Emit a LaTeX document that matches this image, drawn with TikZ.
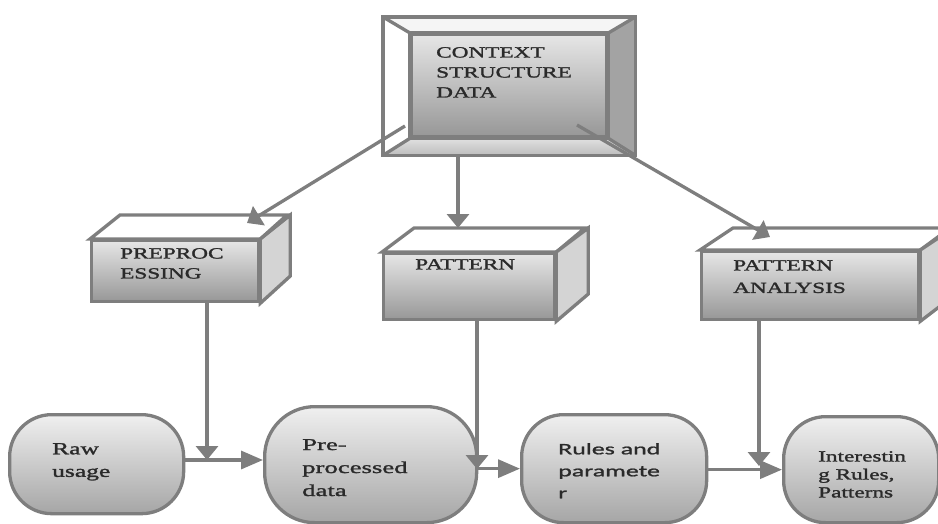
\documentclass[tikz,border=0pt]{standalone}
\usepackage{fontspec}
\setmainfont{Liberation Serif}
\newfontfamily\boxfont[FakeStretch=1.5,FakeBold=1.6]{Liberation Serif}
\newfontfamily\termfont[FakeStretch=1.5,FakeBold=1.6]{Liberation Serif}
\newfontfamily\widefont[FakeStretch=1.62,FakeBold=1.6]{Liberation Serif}
\newfontfamily\rulefont[FakeStretch=1.62,FakeBold=1.2]{Carlito}
\usetikzlibrary{arrows.meta,calc}

\definecolor{edge}{HTML}{7E7E7E}
\definecolor{ink}{HTML}{2A2A2A}
\definecolor{facetop}{HTML}{E6E6E6}
\definecolor{facebot}{HTML}{979797}
\definecolor{side}{HTML}{D4D4D4}

\tikzset{
  outline/.style={draw=edge, line width=3.3pt, line join=miter},
  front/.style={outline, rectangle, inner sep=0pt, anchor=north west,
                top color=facetop, bottom color=facebot},
  topface/.style={outline, fill=white},
  sideface/.style={outline, fill=side},
  terminal/.style={outline, rectangle, inner sep=0pt, anchor=north west,
                   rounded corners=42pt, top color=white!94!black, bottom color=black!35},
  boxtext/.style={anchor=north west, inner sep=0pt, align=left, text=ink,
                  font=\boxfont\fontsize{15.5}{20}\selectfont},
  termtext/.style={anchor=north west, inner sep=0pt, align=left, text=ink,
                   font=\termfont\fontsize{17}{22.5}\selectfont},
  arr/.style={draw=edge, line width=3.3pt, -{Triangle[length=14pt,width=22pt]}},
  harr/.style={draw=edge, line width=3.3pt, -{Triangle[length=22pt,width=18pt]}},
}

\begin{document}
\begin{tikzpicture}[x=1pt,y=-1pt]
\useasboundingbox (0,0) rectangle (938,523);

% ---- bevelled context box ----
\node[outline, rectangle, inner sep=0pt, anchor=north west,
      minimum width=249pt, minimum height=135pt] (frame) at (383,17) {};
\node[front, minimum width=195pt, minimum height=102pt] (ctx) at (410,33) {};
\fill[white!96!black] (frame.north west) -- (frame.north east) -- (ctx.north east) -- (ctx.north west) -- cycle;
\fill[white] (frame.north west) -- (ctx.north west) -- (ctx.south west) -- (frame.south west) -- cycle;
\fill[black!36] (frame.north east) -- (frame.south east) -- (ctx.south east) -- (ctx.north east) -- cycle;
\shade[top color=black!12, bottom color=black!26] (frame.south west) -- (ctx.south west) -- (ctx.south east) -- (frame.south east) -- cycle;
\draw[outline] (frame.north west) rectangle (frame.south east);
\draw[outline] (ctx.north west) rectangle (ctx.south east);
\draw[outline] (frame.north west) -- (ctx.north west)
               (frame.north east) -- (ctx.north east)
               (frame.south west) -- (ctx.south west)
               (frame.south east) -- (ctx.south east);
\node[boxtext] (ctxtext) at (436,47) {CONTEXT\\STRUCTURE\\DATA};

% ---- three cubes ----
\node[front, minimum width=167pt, minimum height=61pt] (pre) at (90,239) {};
\draw[topface] (pre.north west) -- ++(30,-24) -- ++(167,0) -- (pre.north east) -- cycle;
\draw[sideface] (pre.north east) -- ++(30,-24) -- ++(0,61) -- (pre.south east) -- cycle;
\node[boxtext] (pretext) at (120,248) {PREPROC\\ESSING};

\node[front, minimum width=171pt, minimum height=66pt] (pat) at (382,252) {};
\draw[topface] (pat.north west) -- ++(32,-24) -- ++(171,0) -- (pat.north east) -- cycle;
\draw[sideface] (pat.north east) -- ++(32,-24) -- ++(0,66) -- (pat.south east) -- cycle;
\node[boxtext] (pattext) at (415,259) {PATTERN};

\node[front, minimum width=217pt, minimum height=68pt] (ana) at (700,250) {};
\draw[topface] (ana.north west) -- ++(33,-22) -- ++(217,0) -- (ana.north east) -- cycle;
\draw[sideface] (ana.north east) -- ++(33,-22) -- ++(0,68) -- (ana.south east) -- cycle;
\node[boxtext, font=\boxfont\fontsize{15.5}{22.5}\selectfont] (anatext) at (733,260) {PATTERN\\ANALYSIS};

% ---- terminals ----
\node[terminal, minimum width=174pt, minimum height=99pt] (raw) at (8,413) {};
\node[terminal, minimum width=212pt, minimum height=116pt, rounded corners=50pt] (ppd) at (263,405) {};
\node[terminal, minimum width=185pt, minimum height=108pt] (rules) at (520,413) {};
\node[terminal, minimum width=155pt, minimum height=106pt] (intr) at (782,415) {};

\node[termtext] (rawtext) at (52,443) {Raw\\usage};
\node[termtext, font=\widefont\fontsize{16.5}{23}\selectfont] (ppdtext) at (302,439) {Pre-\\processed\\data};
\node[termtext, font=\rulefont\fontsize{16}{22}\selectfont] (rulestext) at (558,443) {Rules and\\paramete\\r};
\node[termtext, font=\termfont\fontsize{15.5}{18}\selectfont] (intrtext) at (818,451) {Interestin\\g Rules,\\Patterns};

% ---- connectors ----
\coordinate (ctxL) at (405,126);
\coordinate (ctxR) at (577,125);
\coordinate (preTip) at (247,223);
\coordinate (patTip) at (458,228);
\coordinate (anaTip) at (770,237);
\draw[arr] (ctxL) -- (preTip);
\draw[arr] (patTip |- frame.south) -- (patTip);
\draw[arr] (ctxR) -- (anaTip);

\coordinate (j1) at (207,460);
\coordinate (j2) at (477,469);
\coordinate (j3) at (759,466);
\draw[harr] (raw.east |- j1) -- (ppd.west |- j1);
\draw[harr] (ppd.east |- rules.west) -- (rules.west);
\draw[harr] (rules.east |- intr.west) -- (intr.west);
\draw[arr] (j1 |- pre.south) -- (j1);
\draw[arr] (j2 |- pat.south) -- (j2);
\draw[arr] (j3 |- ana.south) -- (j3);
\end{tikzpicture}
\end{document}
